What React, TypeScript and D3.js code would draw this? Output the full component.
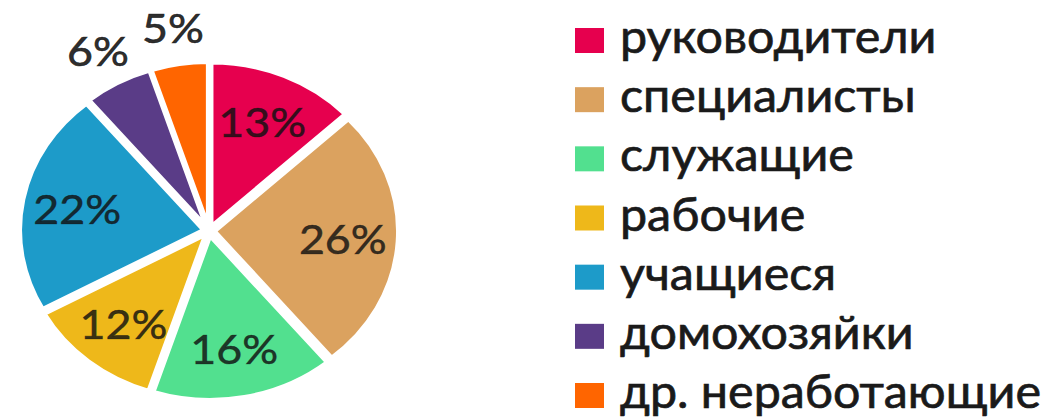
import React from "react";
import * as d3 from "d3";

const categories = [
  "руководители",
  "специалисты",
  "служащие",
  "рабочие",
  "учащиеся",
  "домохозяйки",
  "др. неработающие",
];
const values = [13, 26, 16, 12, 22, 6, 5];
const colors = ["#E6004E", "#DBA25F", "#52E08F", "#EEB81A", "#1D9BC9", "#5A3C87", "#FF6500"];

const W = 1050;
const H = 420;
const cx = 209;
const cy = 231;
const R = 164;
const explode = 5;
const sx = 1.12;

export default function App() {
  const pie = d3.pie<number>().sort(null).value((d) => d);
  const arcs = pie(values);
  const arc = d3.arc<d3.PieArcDatum<number>>().innerRadius(0).outerRadius(R);
  const labelArc = d3.arc<d3.PieArcDatum<number>>().innerRadius(R * 0.73).outerRadius(R * 0.73);
  const outerLabelR = 206;

  const legendY = d3
    .scalePoint<string>()
    .domain(categories)
    .range([40, 395]);

  return (
    <svg
      width={W}
      height={H}
      style={{ position: "absolute", left: 0, top: 0, background: "#fff" }}
      fontFamily="Lato, 'Open Sans', sans-serif"
    >
      <g transform={`translate(${cx},${cy}) scale(${sx},1)`}>
        {arcs.map((a, i) => {
          const mid = (a.startAngle + a.endAngle) / 2;
          const ox = Math.sin(mid) * explode;
          const oy = -Math.cos(mid) * explode;
          return (
            <path
              key={"s" + i}
              d={arc(a) || ""}
              transform={`translate(${ox},${oy})`}
              fill={colors[i]}
              stroke="#fff"
              strokeWidth={4}
              strokeLinejoin="round"
            />
          );
        })}
        {arcs.map((a, i) => {
          const mid = (a.startAngle + a.endAngle) / 2;
          let x: number, y: number;
          if (a.data >= 10) {
            [x, y] = labelArc.centroid(a);
          } else {
            x = Math.sin(mid) * outerLabelR;
            y = -Math.cos(mid) * outerLabelR;
          }
          return (
            <text
              key={"l" + i}
              x={x}
              y={y}
              textAnchor="middle"
              dominantBaseline="central"
              fontSize={40}
              fill="#111"
              fillOpacity={a.data >= 10 ? 0.82 : 0.9}
              stroke="#111"
              strokeOpacity={a.data >= 10 ? 0.6 : 0.8}
              strokeWidth={0.7}
            >
              {a.data + "%"}
            </text>
          );
        })}
      </g>
      <g>
        {categories.map((c, i) => {
          const y = legendY(c) as number;
          return (
            <g key={"g" + i} transform={`translate(575,${y})`}>
              <rect x={0} y={-12} width={29} height={25} fill={colors[i]} />
              <text
                x={45}
                y={13}
                fontSize={47}
                fill="#1a1a1a"
                stroke="#1a1a1a"
                strokeWidth={0.7}
                transform="translate(45,0) scale(1.03,1) translate(-45,0)"
              >
                {c}
              </text>
            </g>
          );
        })}
      </g>
    </svg>
  );
}
